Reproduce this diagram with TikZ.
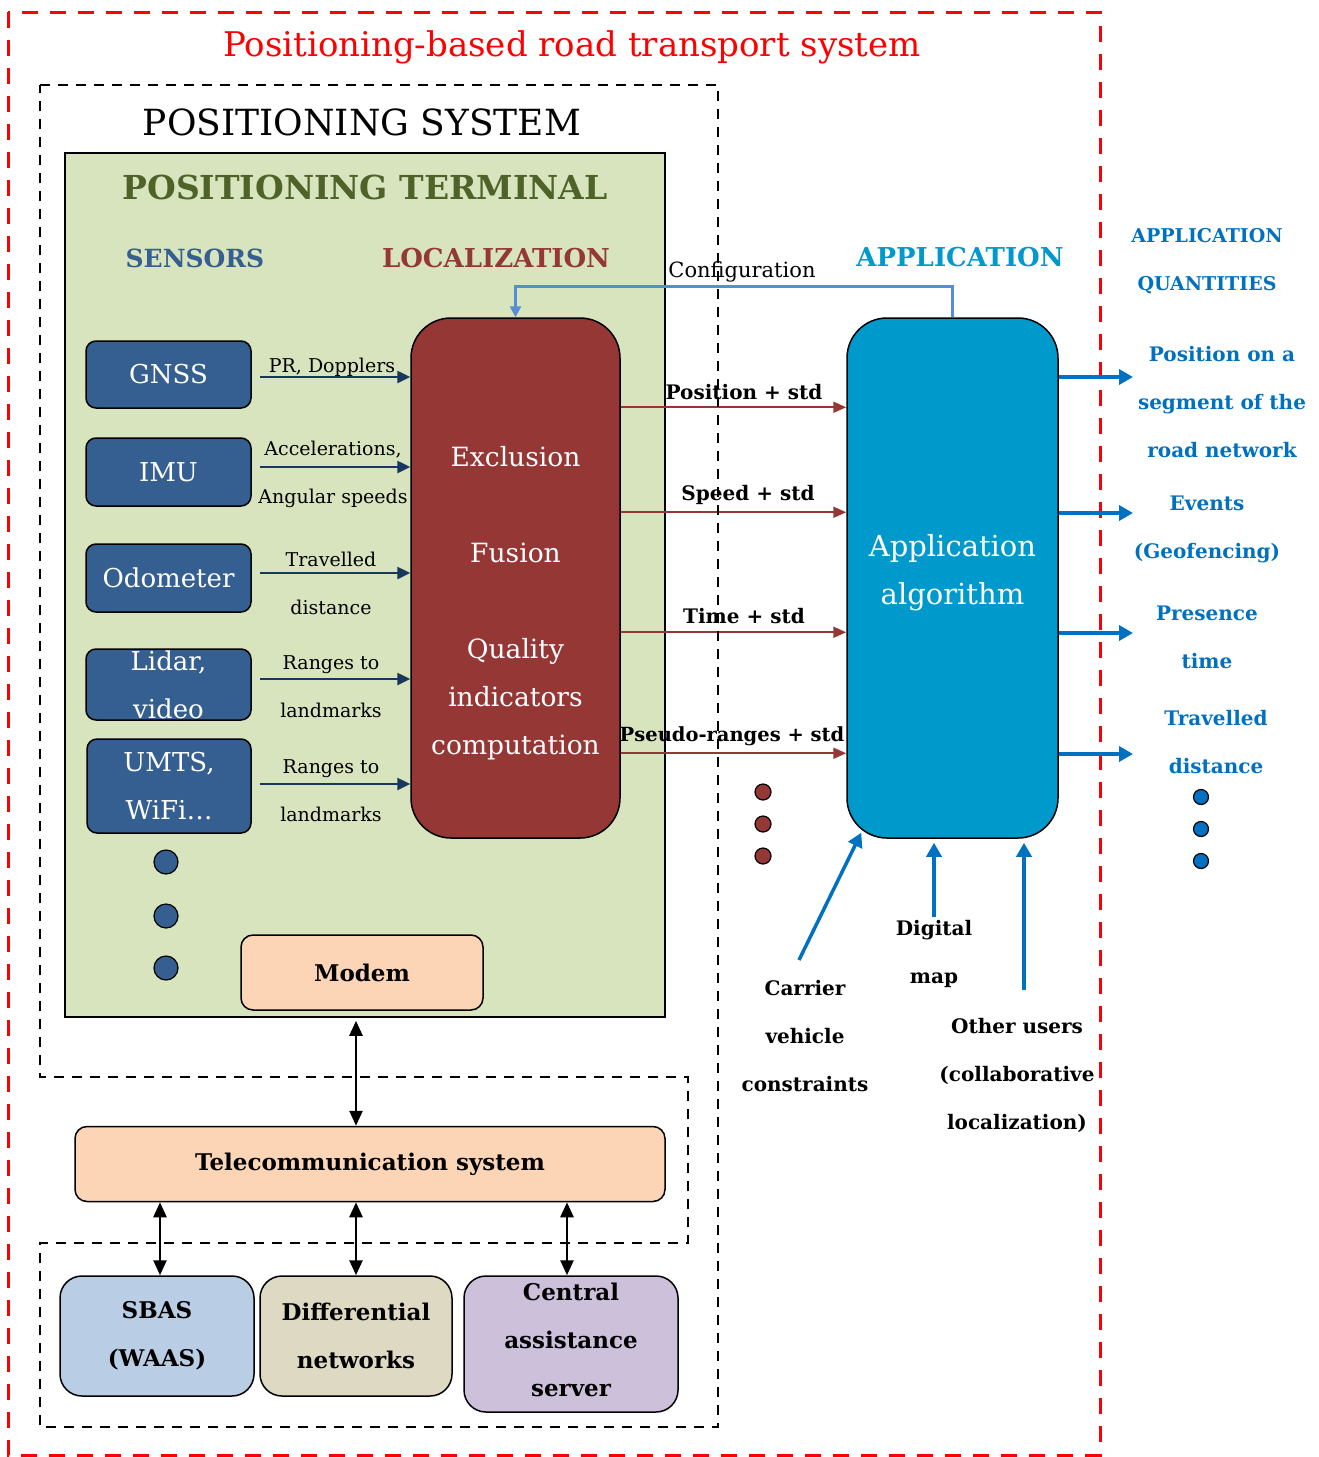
\documentclass[tikz,border=0pt]{standalone}
\usepackage{fontspec}
\setmainfont{DejaVu Serif}
\usetikzlibrary{arrows.meta}
\definecolor{termgreen}{HTML}{D7E4BD}
\definecolor{sensblue}{HTML}{365F91}
\definecolor{navy}{HTML}{17375E}
\definecolor{locred}{HTML}{953735}
\definecolor{appcyan}{HTML}{0099CC}
\definecolor{outblue}{HTML}{0070C0}
\definecolor{cfgblue}{HTML}{558ED5}
\definecolor{olive}{HTML}{4F6228}
\definecolor{peach}{HTML}{FBD5B5}
\definecolor{sbasblue}{HTML}{B9CDE5}
\definecolor{difftan}{HTML}{DDD9C3}
\definecolor{lavender}{HTML}{CCC0DA}
\newcommand{\myfs}[1]{\fontsize{#1}{48}\selectfont}
\tikzset{
  sensor/.style={draw, line width=1.5pt, fill=sensblue, rounded corners=10pt, text=white, font=\myfs{26}, inner sep=0pt, align=center},
  bigbox/.style={draw, line width=1.5pt, rounded corners=40pt, inner sep=0pt},
  softbox/.style={draw, line width=1.5pt, rounded corners=12pt, fill=peach, font=\bfseries\myfs{23}, inner sep=0pt, align=center},
  netbox/.style={draw, line width=1.5pt, rounded corners=22pt, font=\bfseries\myfs{23}, inner sep=0pt, align=center},
  elab/.style={font=\myfs{19}, align=center, inner sep=0pt},
  blab/.style={font=\bfseries\myfs{20}, align=center, inner sep=0pt},
  olab/.style={font=\bfseries\myfs{20}, align=center, inner sep=0pt, text=outblue},
  navyarrow/.style={draw=navy, line width=2.5pt, -{Triangle[length=13pt,width=12pt]}},
  redarrow/.style={draw=locred, line width=2pt, -{Triangle[length=13pt,width=11pt]}},
  bluearrow/.style={draw=outblue, line width=3.5pt, -{Triangle[length=14pt,width=15pt]}},
  dblarrow/.style={draw=black, line width=2.5pt, {Triangle[length=15pt,width=13pt]}-{Triangle[length=15pt,width=13pt]}},
  sysdash/.style={draw=black, line width=2pt, dash pattern=on 10pt off 8pt},
  reddash/.style={draw=red, line width=3pt, dash pattern=on 16pt off 12pt},
  dotstyle/.style={circle, draw=black, line width=1.2pt, inner sep=0pt}
}
\begin{document}
\begin{tikzpicture}[x=1pt,y=-1pt]
\useasboundingbox (0,0) rectangle (1319,1457);
% outer red dashed frame
\draw[reddash] (8,12) rectangle (1100,1455);
\node[font=\myfs{34}, text=red, inner sep=0pt] (title) at (572,47) {Positioning-based road transport system};
\node[font=\myfs{36}, inner sep=0pt] (possys) at (362,122) {POSITIONING SYSTEM};
% terminal
\node[draw, line width=1.5pt, fill=termgreen, minimum width=600pt, minimum height=864pt, inner sep=0pt] (term) at (365,585) {};
\node[font=\bfseries\myfs{33}, text=olive, inner sep=0pt] (termlab) at (365,187) {POSITIONING TERMINAL};
\node[font=\bfseries\myfs{25}, text=sensblue, inner sep=0pt] (senslab) at (195,258) {SENSORS};
\node[font=\bfseries\myfs{26}, text=locred, inner sep=0pt] (loclab) at (496,258) {LOCALIZATION};
\node[font=\bfseries\myfs{26}, text=appcyan, inner sep=0pt] (applab) at (960,257) {APPLICATION};
\node[font=\bfseries\myfs{19}, text=outblue, align=center, inner sep=0pt] (qlab) at (1207,261) {APPLICATION\\QUANTITIES};
% sensors
\node[sensor, minimum width=165pt, minimum height=67pt] (gnss) at (168.5,374.5) {GNSS};
\node[sensor, minimum width=165pt, minimum height=68pt] (imu) at (168.5,472) {IMU};
\node[sensor, minimum width=165pt, minimum height=68pt] (odo) at (168.5,578) {Odometer};
\node[sensor, minimum width=165pt, minimum height=71pt] (lidar) at (168.5,684.5) {Lidar,\\video};
\node[sensor, minimum width=164pt, minimum height=94pt] (umts) at (169,786) {UMTS,\\WiFi\dots};
\node[dotstyle, fill=sensblue, minimum size=24pt] (sd1) at (166,862) {};
\node[dotstyle, fill=sensblue, minimum size=24pt] (sd2) at (166,916) {};
\node[dotstyle, fill=sensblue, minimum size=24pt] (sd3) at (166,968) {};
% localization
\node[bigbox, fill=locred, minimum width=209pt, minimum height=520pt] (loc) at (515.5,578) {};
\node[font=\myfs{26.5}, text=white, align=center, inner sep=0pt] (loctxt) at (515.5,603) {Exclusion\\[48pt]Fusion\\[48pt]Quality\\indicators\\computation};
% application
\node[bigbox, fill=appcyan, minimum width=211pt, minimum height=520pt] (app) at (952.5,578) {};
\node[font=\myfs{29}, text=white, align=center, inner sep=0pt] (apptxt) at (952.5,573) {Application\\algorithm};
% sensor arrows
\draw[navyarrow, shorten <=8pt] ([yshift=-2.5pt]gnss.east) -- ([yshift=-2.5pt]gnss.east -| loc.west);
\draw[navyarrow, shorten <=8pt] ([yshift=5pt]imu.east) -- ([yshift=5pt]imu.east -| loc.west);
\draw[navyarrow, shorten <=8pt] ([yshift=5pt]odo.east) -- ([yshift=5pt]odo.east -| loc.west);
\draw[navyarrow, shorten <=8pt] ([yshift=5.5pt]lidar.east) -- ([yshift=5.5pt]lidar.east -| loc.west);
\draw[navyarrow, shorten <=8pt] ([yshift=2pt]umts.east) -- ([yshift=2pt]umts.east -| loc.west);
\node[elab] (e1) at (332,367) {PR, Dopplers};
\node[elab] (e2) at (333,474) {Accelerations,\\Angular speeds};
\node[elab] (e3) at (331,583) {Travelled\\distance};
\node[elab] (e4) at (331,687) {Ranges to\\landmarks};
\node[elab] (e5) at (331,791) {Ranges to\\landmarks};
% configuration feedback
\draw[draw=cfgblue, line width=3pt, -{Triangle[length=11pt,width=11pt]}] (app.north) -- ++(0,-31) -| (loc.north);
\node[font=\myfs{21}, inner sep=0pt] (cfg) at (742,272) {Configuration};
% localization -> application
\draw[redarrow] ([yshift=-90pt]loc.north east) -- ([yshift=-90pt]app.north west);
\draw[redarrow] ([yshift=-195pt]loc.north east) -- ([yshift=-195pt]app.north west);
\draw[redarrow] ([yshift=-315pt]loc.north east) -- ([yshift=-315pt]app.north west);
\draw[redarrow] ([yshift=-436pt]loc.north east) -- ([yshift=-436pt]app.north west);
\node[blab] (r1) at (744,392) {Position + std};
\node[blab] (r2) at (748,495) {Speed + std};
\node[blab] (r3) at (744,616) {Time + std};
\node[blab, font=\bfseries\myfs{19.5}] (r4) at (732,736) {Pseudo-ranges + std};
\node[dotstyle, fill=locred, minimum size=16pt] (rd1) at (763,792) {};
\node[dotstyle, fill=locred, minimum size=16pt] (rd2) at (763,824) {};
\node[dotstyle, fill=locred, minimum size=16pt] (rd3) at (763,856) {};
% application outputs
\coordinate (o1) at (1133,377);
\coordinate (o2) at (1133,513);
\coordinate (o3) at (1133,633);
\coordinate (o4) at (1133,754);
\draw[bluearrow] (o1 -| app.east) -- (o1);
\draw[bluearrow] (o2 -| app.east) -- (o2);
\draw[bluearrow] (o3 -| app.east) -- (o3);
\draw[bluearrow] (o4 -| app.east) -- (o4);
\node[olab] (q1) at (1222,402) {Position on a\\segment of the\\road network};
\node[olab] (q2) at (1207,529) {Events\\(Geofencing)};
\node[olab] (q3) at (1207,637) {Presence\\time};
\node[olab] (q4) at (1216,742) {Travelled\\distance};
\node[dotstyle, fill=outblue, minimum size=15pt] (bd1) at (1201,797) {};
\node[dotstyle, fill=outblue, minimum size=15pt] (bd2) at (1201,829) {};
\node[dotstyle, fill=outblue, minimum size=15pt] (bd3) at (1201,861) {};
% application inputs
\node[blab] (carrier) at (805,1036) {Carrier\\vehicle\\constraints};
\node[blab] (dmap) at (934,954) {Digital\\map};
\node[blab] (others) at (1017,1075) {Other users\\(collaborative\\localization)};
\coordinate (cvstart) at (799,960);
\coordinate (oustart) at (1024,990);
\draw[bluearrow] (cvstart) -- ([xshift=15pt,yshift=6pt]app.south west);
\draw[bluearrow, shorten <=3pt, shorten >=4pt] (dmap.north) -- (dmap.north |- app.south);
\draw[bluearrow, shorten >=4pt] (oustart) -- (oustart |- app.south);
% modem and telecom
\node[softbox, minimum width=242pt, minimum height=75pt] (modem) at (362,972.5) {Modem};
\node[softbox, minimum width=590pt, minimum height=75pt] (tele) at (370,1164) {Telecommunication system};
% networks
\node[netbox, fill=sbasblue, minimum width=194pt, minimum height=120pt] (sbas) at (157,1336) {SBAS\\(WAAS)};
\node[netbox, fill=difftan, minimum width=192pt, minimum height=120pt] (diff) at (356,1336) {Differential\\networks};
\node[netbox, fill=lavender, minimum width=214pt, minimum height=136pt] (central) at (571,1344) {};
\node[font=\bfseries\myfs{23}, align=center, inner sep=0pt] (centraltxt) at (571,1340) {Central\\assistance\\server};
% positioning system dashed outline (drawn over the connectors it crosses)
\draw[sysdash] (40,85) -- (718,85) -- (718,1427) -- (40,1427) -- (40,1243) -- (688,1243) -- (688,1077) -- (40,1077) -- cycle;
% double arrows
\draw[dblarrow, shorten <=3pt] (term.south -| 356,0) -- (tele.north -| 356,0);
\draw[dblarrow] (tele.south -| 160,0) -- (sbas.north -| 160,0);
\draw[dblarrow] (tele.south -| diff.north) -- (diff.north);
\draw[dblarrow] (tele.south -| 567,0) -- (central.north -| 567,0);
\end{tikzpicture}
\end{document}
